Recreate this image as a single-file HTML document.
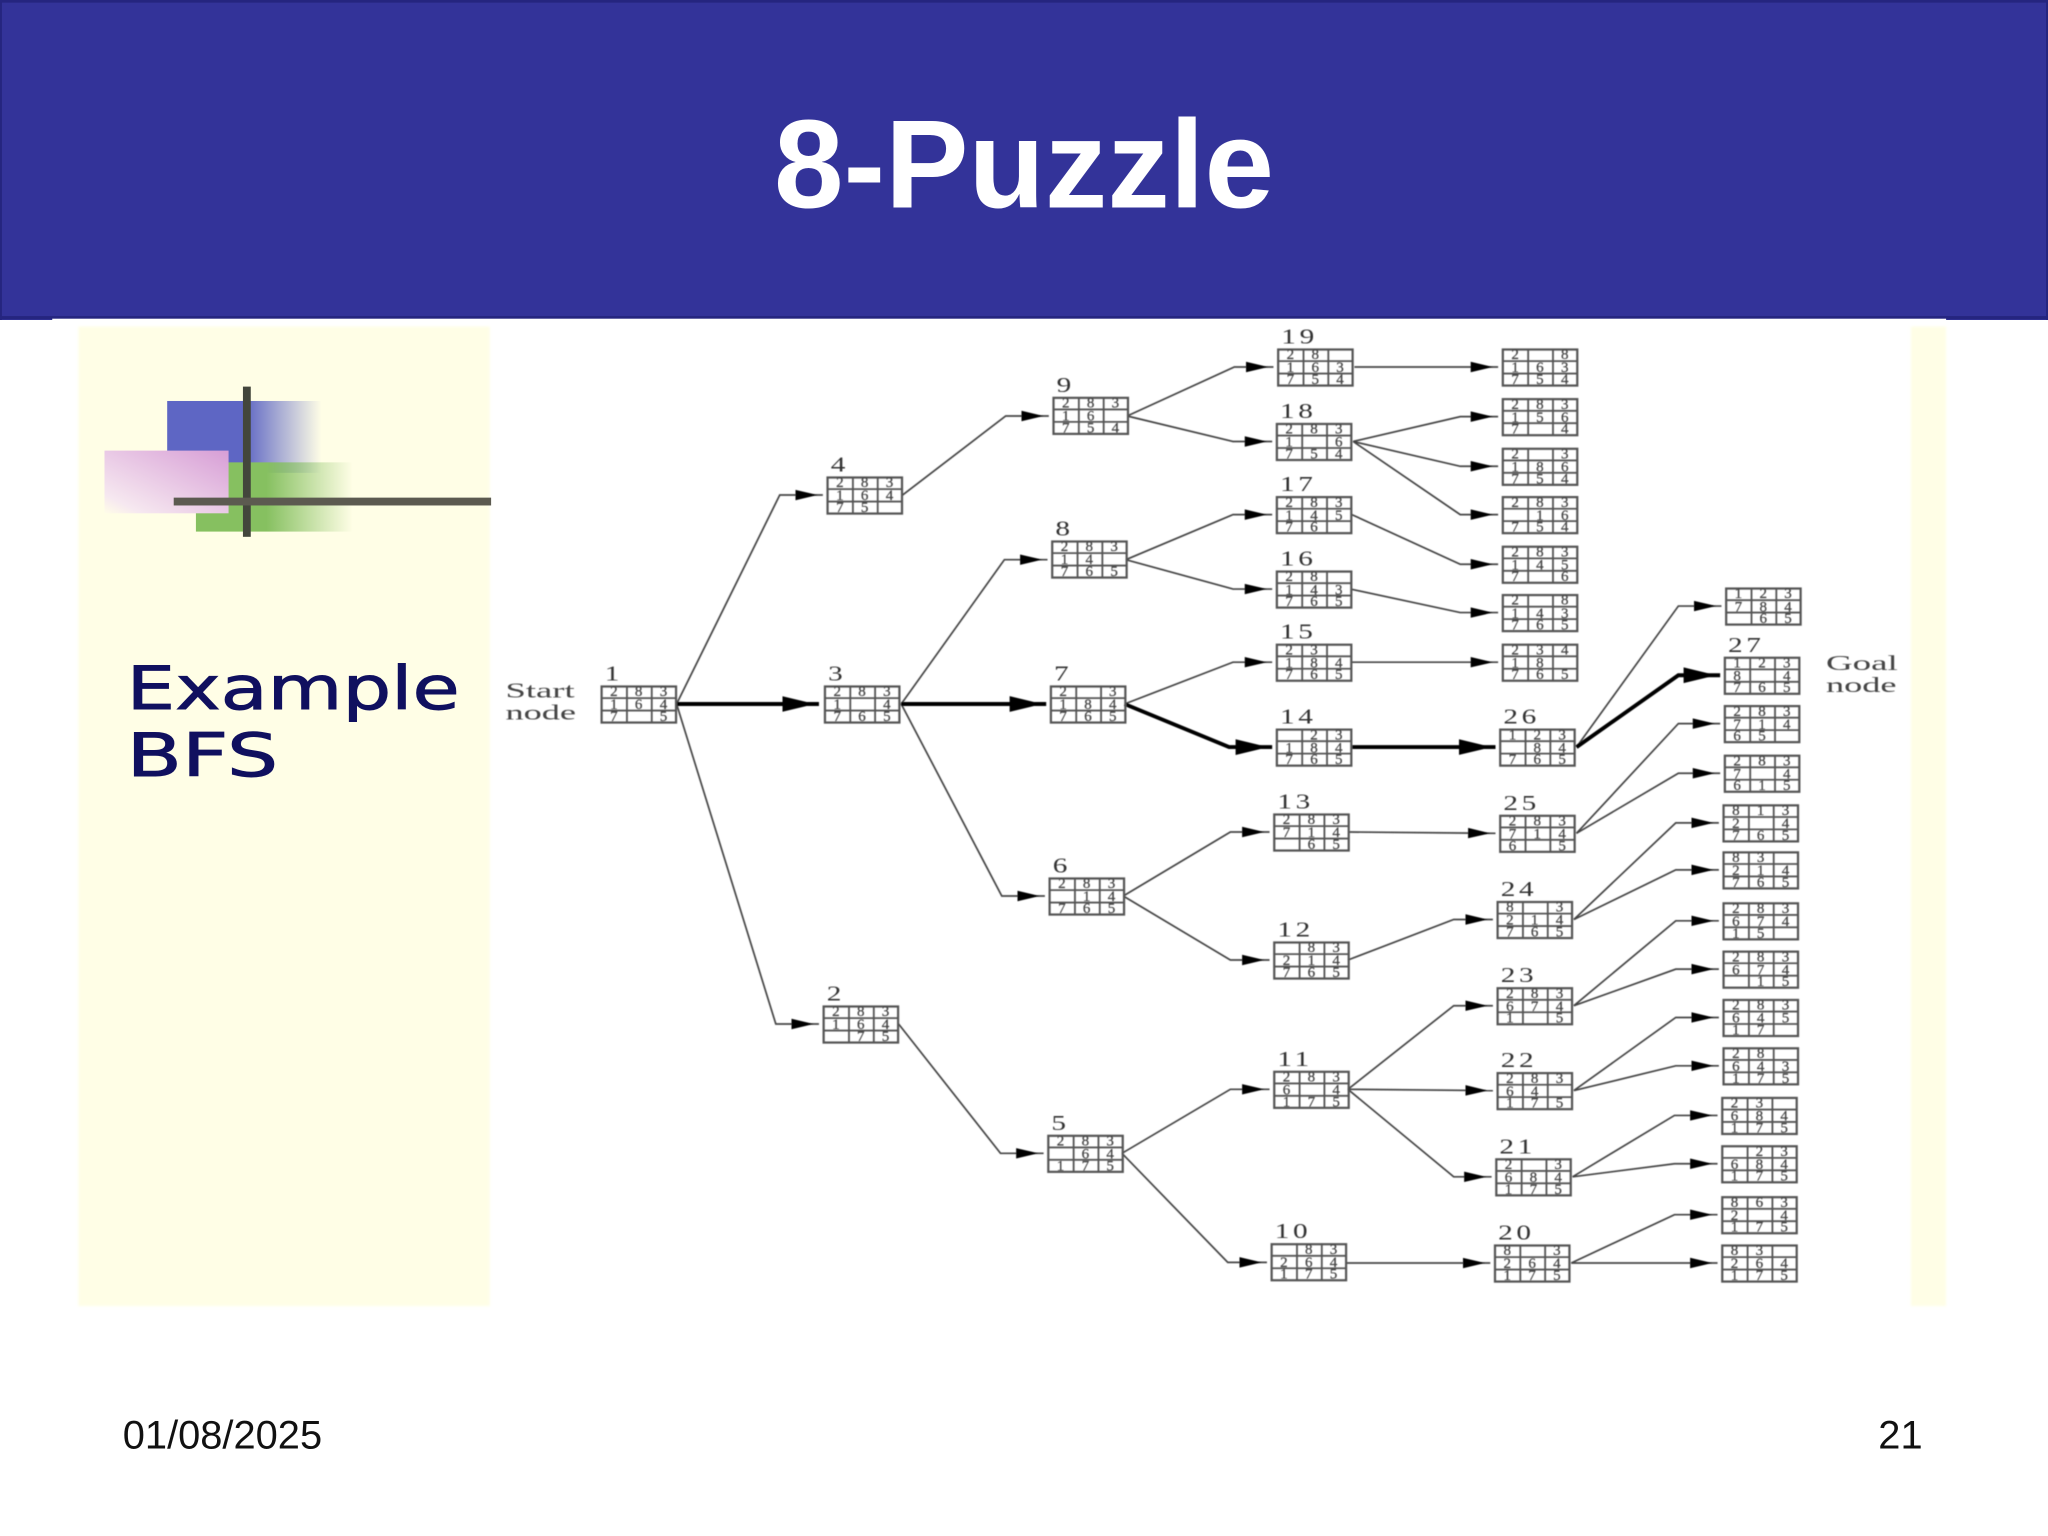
<!DOCTYPE html>
<html><head><meta charset="utf-8"><title>8-Puzzle</title>
<style>
html,body{margin:0;padding:0;background:#fff}
svg{display:block}
.g text{font-family:"Liberation Serif",serif;font-size:11.5px;fill:#444;stroke:#444;stroke-width:.2;text-anchor:middle}
.g text.n{font-size:16px;fill:#333;stroke:none;text-anchor:start;letter-spacing:2px;transform-box:fill-box;transform-origin:left center;transform:scaleX(1.4)}
.l{font-family:"Liberation Serif",serif;font-size:16.5px;fill:#444}
.e polyline{fill:none;stroke:#444;stroke-width:1.3;marker-end:url(#a)}
.t polyline{fill:none;stroke:#000;stroke-width:3;marker-end:url(#A)}
</style></head><body>
<svg xmlns="http://www.w3.org/2000/svg" width="2048" height="1536" viewBox="0 0 1568 1176">
<defs>
<linearGradient id="bl" x1="0" x2="1" y1="0" y2="0"><stop offset=".5" stop-color="#5e66c4"/><stop offset="1" stop-color="#5e66c4" stop-opacity="0"/></linearGradient>
<linearGradient id="gr" x1="0" x2="1" y1="0" y2="0"><stop offset=".45" stop-color="#86c060"/><stop offset="1" stop-color="#86c060" stop-opacity="0"/></linearGradient>
<linearGradient id="pk" x1="1" x2="0" y1="0" y2="1"><stop offset="0" stop-color="#d79ed6"/><stop offset=".85" stop-color="#f6e8f0"/><stop offset="1" stop-color="#fffde8"/></linearGradient>
<marker id="a" markerUnits="userSpaceOnUse" markerWidth="24" markerHeight="12" refX="21" refY="5" orient="auto"><polygon points="0,1 17,5 0,9" fill="#000"/></marker>
<marker id="A" markerUnits="userSpaceOnUse" markerWidth="30" markerHeight="16" refX="28" refY="7" orient="auto"><polygon points="0,1 25,7 0,13" fill="#000"/></marker>
<filter id="f" x="-2%" y="-2%" width="104%" height="104%"><feGaussianBlur stdDeviation="0.45"/></filter>
<filter id="s" x="-2%" y="-2%" width="104%" height="104%"><feGaussianBlur stdDeviation="1"/></filter>
<g id="b"><rect x=".6" y=".6" width="57" height="27.6" fill="none" stroke="#555" stroke-width="1.7"/><path d="M20 0V28M39 0V28M0 9.5H58M0 19H58" fill="none" stroke="#555" stroke-width="1.4"/></g>
</defs>
<rect width="1568" height="1176" fill="#fff"/>
<rect width="1568" height="245" fill="#333399"/>
<rect x="0" y="0" width="1568" height="2" fill="#25257f"/>
<rect x="0" y="0" width="1.5" height="245" fill="#25257f"/>
<rect x="1566.5" y="0" width="1.5" height="245" fill="#25257f"/>
<rect x="0" y="242" width="1568" height="2.5" fill="#25257f"/>
<rect x="40" y="244" width="1450" height="2" fill="#fff"/>
<text x="784" y="159" text-anchor="middle" font-family="'Liberation Sans',sans-serif" font-weight="bold" font-size="95.7" fill="#fff">8-Puzzle</text>

<g filter="url(#s)">
<rect x="60" y="250" width="315" height="750" fill="#fffee6"/>
<rect x="1463" y="250" width="27" height="750" fill="#fffee6"/>
</g>
<rect x="128" y="307" width="118" height="55" fill="url(#bl)"/>
<rect x="150" y="354" width="120" height="53" fill="url(#gr)"/>
<rect x="80" y="345" width="95" height="48" fill="url(#pk)"/>
<rect x="186" y="296" width="6" height="115" fill="#43463c"/>
<rect x="133" y="381" width="243" height="6" fill="#5c5a50"/>
<g font-family="'DejaVu Sans',sans-serif" font-size="46" fill="#10105f" stroke="#10105f" stroke-width=".7">
<text x="97" y="543" textLength="255" lengthAdjust="spacingAndGlyphs">Example</text>
<text x="97" y="594" textLength="116" lengthAdjust="spacingAndGlyphs">BFS</text>
</g>
<g font-family="'Liberation Sans',sans-serif" font-size="30.5" fill="#111">
<text x="94" y="1109">01/08/2025</text>
<text x="1472" y="1109" text-anchor="end">21</text>
</g>

<g filter="url(#f)">
<g class="e">
<polyline points="518,539 597,379 630,379"/>
<polyline points="518,539 594,784 627,784"/>
<polyline points="691,379 770,318.5 803,318.5"/>
<polyline points="690,539 769,428.5 802,428.5"/>
<polyline points="690,539 767,686 800,686"/>
<polyline points="688,784 766,883 799,883"/>
<polyline points="863,318.5 945,281 975,281"/>
<polyline points="863,318.5 944,338 974,338"/>
<polyline points="862,428.5 944,394 974,394"/>
<polyline points="862,428.5 944,451 974,451"/>
<polyline points="861,539 944,507 974,507"/>
<polyline points="860,686 942,637 972,637"/>
<polyline points="860,686 942,735 972,735"/>
<polyline points="859,883 942,834 972,834"/>
<polyline points="859,883 940,966.5 970,966.5"/>
<polyline points="1037,281 1147,281"/>
<polyline points="1036,338 1118,319 1147,319"/>
<polyline points="1036,338 1118,357 1147,357"/>
<polyline points="1036,338 1118,394 1147,394"/>
<polyline points="1035,394 1118,432 1147,432"/>
<polyline points="1034,451 1118,469 1147,469"/>
<polyline points="1034,507 1147,507"/>
<polyline points="1033,637 1145,638"/>
<polyline points="1032,735 1113,704 1143,704"/>
<polyline points="1032,834 1113,770 1143,770"/>
<polyline points="1032,834 1143,835"/>
<polyline points="1032,834 1113,901 1142,901"/>
<polyline points="1031,967 1141,967"/>
<polyline points="1207,572 1285,464 1318,464"/>
<polyline points="1207,638 1285,554 1317,554"/>
<polyline points="1207,638 1285,592 1317,592"/>
<polyline points="1205,704 1283,630 1316,630"/>
<polyline points="1205,704 1283,666 1316,666"/>
<polyline points="1205,770 1283,705 1316,705"/>
<polyline points="1205,770 1283,742 1316,742"/>
<polyline points="1205,835 1283,779 1316,779"/>
<polyline points="1205,835 1283,816 1316,816"/>
<polyline points="1204,901 1282,854 1315,854"/>
<polyline points="1204,901 1282,891 1315,891"/>
<polyline points="1203,967 1282,930 1315,930"/>
<polyline points="1203,967 1315,967"/>
</g>
<g class="t">
<polyline points="518,539 627,539"/>
<polyline points="690,539 801,539"/>
<polyline points="861,539 941,572 974,572"/>
<polyline points="1034,572 1145,572"/>
<polyline points="1207,572 1285,517 1317,517"/>
</g>
<g class="g">
<g transform="translate(460,525)"><use href="#b"/><text class="n" x="3" y="-4">1</text><text x="10 29 48" y="8">283</text><text x="10 29 48" y="18">164</text><text x="10 48" y="27">75</text></g>
<g transform="translate(633,365)"><use href="#b"/><text class="n" x="3" y="-4">4</text><text x="10 29 48" y="8">283</text><text x="10 29 48" y="18">164</text><text x="10 29" y="27">75</text></g>
<g transform="translate(631,525)"><use href="#b"/><text class="n" x="3" y="-4">3</text><text x="10 29 48" y="8">283</text><text x="10 48" y="18">14</text><text x="10 29 48" y="27">765</text></g>
<g transform="translate(630,770)"><use href="#b"/><text class="n" x="3" y="-4">2</text><text x="10 29 48" y="8">283</text><text x="10 29 48" y="18">164</text><text x="29 48" y="27">75</text></g>
<g transform="translate(806,304)"><use href="#b"/><text class="n" x="3" y="-4">9</text><text x="10 29 48" y="8">283</text><text x="10 29" y="18">16</text><text x="10 29 48" y="27">754</text></g>
<g transform="translate(805,414)"><use href="#b"/><text class="n" x="3" y="-4">8</text><text x="10 29 48" y="8">283</text><text x="10 29" y="18">14</text><text x="10 29 48" y="27">765</text></g>
<g transform="translate(804,525)"><use href="#b"/><text class="n" x="3" y="-4">7</text><text x="10 48" y="8">23</text><text x="10 29 48" y="18">184</text><text x="10 29 48" y="27">765</text></g>
<g transform="translate(803,672)"><use href="#b"/><text class="n" x="3" y="-4">6</text><text x="10 29 48" y="8">283</text><text x="29 48" y="18">14</text><text x="10 29 48" y="27">765</text></g>
<g transform="translate(802,869)"><use href="#b"/><text class="n" x="3" y="-4">5</text><text x="10 29 48" y="8">283</text><text x="29 48" y="18">64</text><text x="10 29 48" y="27">175</text></g>
<g transform="translate(978,267)"><use href="#b"/><text class="n" x="3" y="-4">19</text><text x="10 29" y="8">28</text><text x="10 29 48" y="18">163</text><text x="10 29 48" y="27">754</text></g>
<g transform="translate(977,324)"><use href="#b"/><text class="n" x="3" y="-4">18</text><text x="10 29 48" y="8">283</text><text x="10 48" y="18">16</text><text x="10 29 48" y="27">754</text></g>
<g transform="translate(977,380)"><use href="#b"/><text class="n" x="3" y="-4">17</text><text x="10 29 48" y="8">283</text><text x="10 29 48" y="18">145</text><text x="10 29" y="27">76</text></g>
<g transform="translate(977,437)"><use href="#b"/><text class="n" x="3" y="-4">16</text><text x="10 29" y="8">28</text><text x="10 29 48" y="18">143</text><text x="10 29 48" y="27">765</text></g>
<g transform="translate(977,493)"><use href="#b"/><text class="n" x="3" y="-4">15</text><text x="10 29" y="8">23</text><text x="10 29 48" y="18">184</text><text x="10 29 48" y="27">765</text></g>
<g transform="translate(977,558)"><use href="#b"/><text class="n" x="3" y="-4">14</text><text x="29 48" y="8">23</text><text x="10 29 48" y="18">184</text><text x="10 29 48" y="27">765</text></g>
<g transform="translate(975,623)"><use href="#b"/><text class="n" x="3" y="-4">13</text><text x="10 29 48" y="8">283</text><text x="10 29 48" y="18">714</text><text x="29 48" y="27">65</text></g>
<g transform="translate(975,721)"><use href="#b"/><text class="n" x="3" y="-4">12</text><text x="29 48" y="8">83</text><text x="10 29 48" y="18">214</text><text x="10 29 48" y="27">765</text></g>
<g transform="translate(975,820)"><use href="#b"/><text class="n" x="3" y="-4">11</text><text x="10 29 48" y="8">283</text><text x="10 48" y="18">64</text><text x="10 29 48" y="27">175</text></g>
<g transform="translate(973,952)"><use href="#b"/><text class="n" x="3" y="-4">10</text><text x="29 48" y="8">83</text><text x="10 29 48" y="18">264</text><text x="10 29 48" y="27">175</text></g>
<g transform="translate(1150,267)"><use href="#b"/><text x="10 48" y="8">28</text><text x="10 29 48" y="18">163</text><text x="10 29 48" y="27">754</text></g>
<g transform="translate(1150,305)"><use href="#b"/><text x="10 29 48" y="8">283</text><text x="10 29 48" y="18">156</text><text x="10 48" y="27">74</text></g>
<g transform="translate(1150,343)"><use href="#b"/><text x="10 48" y="8">23</text><text x="10 29 48" y="18">186</text><text x="10 29 48" y="27">754</text></g>
<g transform="translate(1150,380)"><use href="#b"/><text x="10 29 48" y="8">283</text><text x="29 48" y="18">16</text><text x="10 29 48" y="27">754</text></g>
<g transform="translate(1150,418)"><use href="#b"/><text x="10 29 48" y="8">283</text><text x="10 29 48" y="18">145</text><text x="10 48" y="27">76</text></g>
<g transform="translate(1150,455)"><use href="#b"/><text x="10 48" y="8">28</text><text x="10 29 48" y="18">143</text><text x="10 29 48" y="27">765</text></g>
<g transform="translate(1150,493)"><use href="#b"/><text x="10 29 48" y="8">234</text><text x="10 29" y="18">18</text><text x="10 29 48" y="27">765</text></g>
<g transform="translate(1148,558)"><use href="#b"/><text class="n" x="3" y="-4">26</text><text x="10 29 48" y="8">123</text><text x="29 48" y="18">84</text><text x="10 29 48" y="27">765</text></g>
<g transform="translate(1148,624)"><use href="#b"/><text class="n" x="3" y="-4">25</text><text x="10 29 48" y="8">283</text><text x="10 29 48" y="18">714</text><text x="10 48" y="27">65</text></g>
<g transform="translate(1146,690)"><use href="#b"/><text class="n" x="3" y="-4">24</text><text x="10 48" y="8">83</text><text x="10 29 48" y="18">214</text><text x="10 29 48" y="27">765</text></g>
<g transform="translate(1146,756)"><use href="#b"/><text class="n" x="3" y="-4">23</text><text x="10 29 48" y="8">283</text><text x="10 29 48" y="18">674</text><text x="10 48" y="27">15</text></g>
<g transform="translate(1146,821)"><use href="#b"/><text class="n" x="3" y="-4">22</text><text x="10 29 48" y="8">283</text><text x="10 29" y="18">64</text><text x="10 29 48" y="27">175</text></g>
<g transform="translate(1145,887)"><use href="#b"/><text class="n" x="3" y="-4">21</text><text x="10 48" y="8">23</text><text x="10 29 48" y="18">684</text><text x="10 29 48" y="27">175</text></g>
<g transform="translate(1144,953)"><use href="#b"/><text class="n" x="3" y="-4">20</text><text x="10 48" y="8">83</text><text x="10 29 48" y="18">264</text><text x="10 29 48" y="27">175</text></g>
<g transform="translate(1321,450)"><use href="#b"/><text x="10 29 48" y="8">123</text><text x="10 29 48" y="18">784</text><text x="29 48" y="27">65</text></g>
<g transform="translate(1320,503)"><use href="#b"/><text class="n" x="3" y="-4">27</text><text x="10 29 48" y="8">123</text><text x="10 48" y="18">84</text><text x="10 29 48" y="27">765</text></g>
<g transform="translate(1320,540)"><use href="#b"/><text x="10 29 48" y="8">283</text><text x="10 29 48" y="18">714</text><text x="10 29" y="27">65</text></g>
<g transform="translate(1320,578)"><use href="#b"/><text x="10 29 48" y="8">283</text><text x="10 48" y="18">74</text><text x="10 29 48" y="27">615</text></g>
<g transform="translate(1319,616)"><use href="#b"/><text x="10 29 48" y="8">813</text><text x="10 48" y="18">24</text><text x="10 29 48" y="27">765</text></g>
<g transform="translate(1319,652)"><use href="#b"/><text x="10 29" y="8">83</text><text x="10 29 48" y="18">214</text><text x="10 29 48" y="27">765</text></g>
<g transform="translate(1319,691)"><use href="#b"/><text x="10 29 48" y="8">283</text><text x="10 29 48" y="18">674</text><text x="10 29" y="27">15</text></g>
<g transform="translate(1319,728)"><use href="#b"/><text x="10 29 48" y="8">283</text><text x="10 29 48" y="18">674</text><text x="29 48" y="27">15</text></g>
<g transform="translate(1319,765)"><use href="#b"/><text x="10 29 48" y="8">283</text><text x="10 29 48" y="18">645</text><text x="10 29" y="27">17</text></g>
<g transform="translate(1319,802)"><use href="#b"/><text x="10 29" y="8">28</text><text x="10 29 48" y="18">643</text><text x="10 29 48" y="27">175</text></g>
<g transform="translate(1318,840)"><use href="#b"/><text x="10 29" y="8">23</text><text x="10 29 48" y="18">684</text><text x="10 29 48" y="27">175</text></g>
<g transform="translate(1318,877)"><use href="#b"/><text x="29 48" y="8">23</text><text x="10 29 48" y="18">684</text><text x="10 29 48" y="27">175</text></g>
<g transform="translate(1318,916)"><use href="#b"/><text x="10 29 48" y="8">863</text><text x="10 48" y="18">24</text><text x="10 29 48" y="27">175</text></g>
<g transform="translate(1318,953)"><use href="#b"/><text x="10 29" y="8">83</text><text x="10 29 48" y="18">264</text><text x="10 29 48" y="27">175</text></g>
</g>
<text class="l" x="387" y="534" textLength="53" lengthAdjust="spacingAndGlyphs">Start</text>
<text class="l" x="387" y="551" textLength="54" lengthAdjust="spacingAndGlyphs">node</text>
<text class="l" x="1398" y="513" textLength="55" lengthAdjust="spacingAndGlyphs">Goal</text>
<text class="l" x="1398" y="530" textLength="54" lengthAdjust="spacingAndGlyphs">node</text>
</g>
</svg>
</body></html>
